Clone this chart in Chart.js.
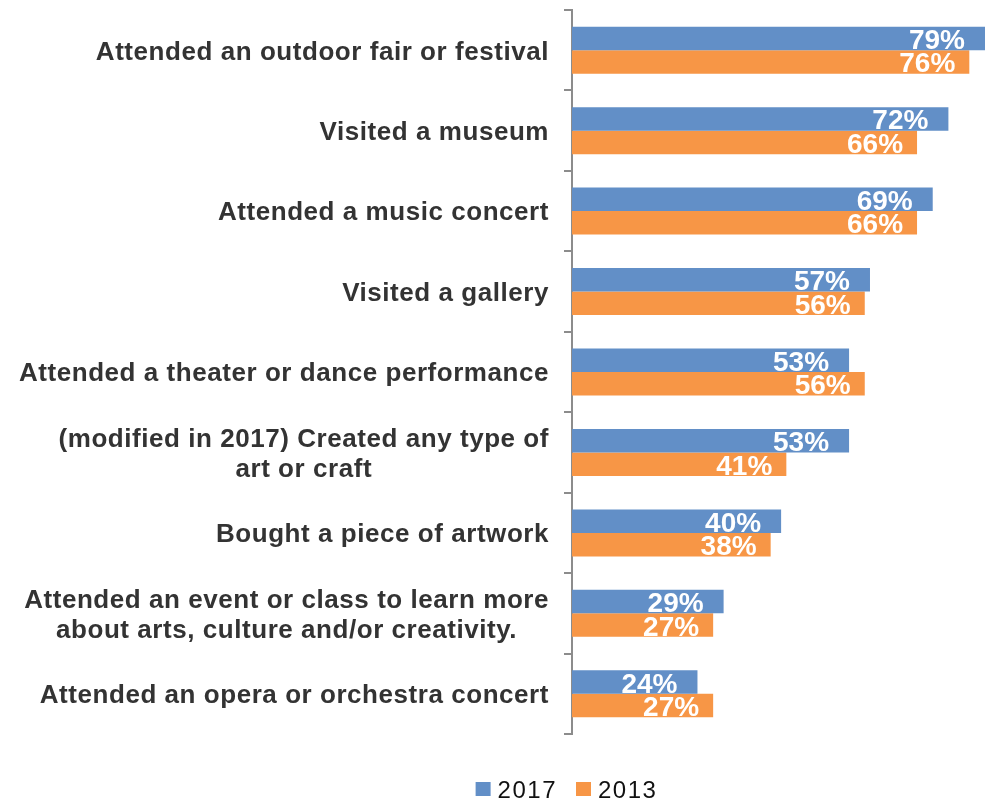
<!DOCTYPE html>
<html>
<head>
<meta charset="utf-8">
<script src="https://cdn.jsdelivr.net/npm/chart.js@4.4.1/dist/chart.umd.min.js"></script>
<style>
  html, body { margin: 0; padding: 0; background: #ffffff; }
  #wrap { width: 989px; height: 801px; position: relative; }
</style>
</head>
<body>
<div id="wrap"><canvas id="c" width="989" height="801"></canvas></div>
<script>
// Activity categories (each entry is the list of lines shown for that row)
const categories = [
  ['Attended an outdoor fair or festival'],
  ['Visited a museum'],
  ['Attended a music concert'],
  ['Visited a gallery'],
  ['Attended a theater or dance performance'],
  ['(modified in 2017) Created any type of', 'art or craft'],
  ['Bought a piece of artwork'],
  ['Attended an event or class to learn more', 'about arts, culture and/or creativity.'],
  ['Attended an opera or orchestra concert']
];

// Share of respondents (%)
const values2017 = [79, 72, 69, 57, 53, 53, 40, 29, 24];
const values2013 = [76, 66, 66, 56, 56, 41, 38, 27, 27];
const seriesNames = ['2017', '2013'];

const BLUE = '#628FC7';
const ORANGE = '#F79646';
const FONT = '"Liberation Sans", Arial, Helvetica, sans-serif';

// Row labels to the left of the axis: multi-line labels are centred on their widest line,
// and the widest line sits flush right against the axis.
const categoryLabels = {
  id: 'categoryLabels',
  afterDraw(chart) {
    const { ctx, chartArea } = chart;
    const yScale = chart.scales.y;
    const right = chartArea.left - 23;
    const lineHeight = 30;
    ctx.save();
    ctx.font = 'bold 26px ' + FONT;
    ctx.letterSpacing = '0.55px';
    ctx.fillStyle = '#333333';
    ctx.textAlign = 'center';
    ctx.textBaseline = 'alphabetic';
    chart.data.labels.forEach((lines, i) => {
      const cy = yScale.getPixelForValue(i);
      const maxW = Math.max(...lines.map(l => ctx.measureText(l).width));
      const cx = right - maxW / 2;
      const first = cy - (lines.length - 1) * lineHeight / 2;
      lines.forEach((line, j) => ctx.fillText(line, cx, first + j * lineHeight + 9.3));
    });
    ctx.restore();
  }
};

// White percentage labels inside the end of each bar
const valueLabels = {
  id: 'valueLabels',
  afterDatasetsDraw(chart, args, opts) {
    const { ctx } = chart;
    ctx.save();
    ctx.font = 'bold 28px ' + FONT;
    ctx.fillStyle = '#ffffff';
    ctx.textAlign = 'right';
    ctx.textBaseline = 'alphabetic';
    chart.data.datasets.forEach((ds, di) => {
      const meta = chart.getDatasetMeta(di);
      const inset = opts.insets[di];
      meta.data.forEach((bar, i) => {
        ctx.fillText(ds.data[i] + '%', bar.x - inset, bar.y + 10.5);
      });
    });
    ctx.restore();
  }
};

// Legend row beneath the plot
const bottomLegend = {
  id: 'bottomLegend',
  afterDraw(chart) {
    const { ctx } = chart;
    const box = 15, gapText = 7, gapItem = 19, cy = 789;
    ctx.save();
    ctx.font = '24px ' + FONT;
    ctx.letterSpacing = '1.5px';
    ctx.textBaseline = 'alphabetic';
    ctx.textAlign = 'left';
    const items = chart.data.datasets.map(ds => ({
      text: ds.label, color: ds.backgroundColor, w: ctx.measureText(ds.label).width
    }));
    const total = items.reduce((s, it) => s + box + gapText + it.w, 0) + gapItem * (items.length - 1);
    let x = chart.width / 2 + 72 - total / 2;
    items.forEach(it => {
      ctx.fillStyle = it.color;
      ctx.fillRect(x, cy - 7, box, box - 1);
      ctx.fillStyle = '#111111';
      ctx.fillText(it.text, x + box + gapText, cy + 8.5);
      x += box + gapText + it.w + gapItem;
    });
    ctx.restore();
  }
};

new Chart(document.getElementById('c'), {
  type: 'bar',
  data: {
    labels: categories,
    datasets: [
      { label: seriesNames[0], data: values2017, backgroundColor: BLUE },
      { label: seriesNames[1], data: values2013, backgroundColor: ORANGE }
    ]
  },
  options: {
    indexAxis: 'y',
    responsive: false,
    animation: false,
    devicePixelRatio: 1,
    layout: { padding: { top: 10, right: 4, bottom: 67, left: 0 } },
    datasets: { bar: { categoryPercentage: 0.584, barPercentage: 1 } },
    plugins: {
      legend: { display: false },
      tooltip: { enabled: false },
      valueLabels: { insets: [20, 14] }
    },
    scales: {
      x: { display: false, min: 0, max: 79 },
      y: {
        afterFit(scale) { scale.width = 572; },
        ticks: { display: false },
        grid: {
          display: true,
          offset: true,
          drawOnChartArea: false,
          drawTicks: true,
          tickLength: 8,
          color: '#8c8c8c',
          lineWidth: 2
        },
        border: { display: true, color: '#8c8c8c', width: 2 }
      }
    }
  },
  plugins: [categoryLabels, valueLabels, bottomLegend]
});
</script>
</body>
</html>
